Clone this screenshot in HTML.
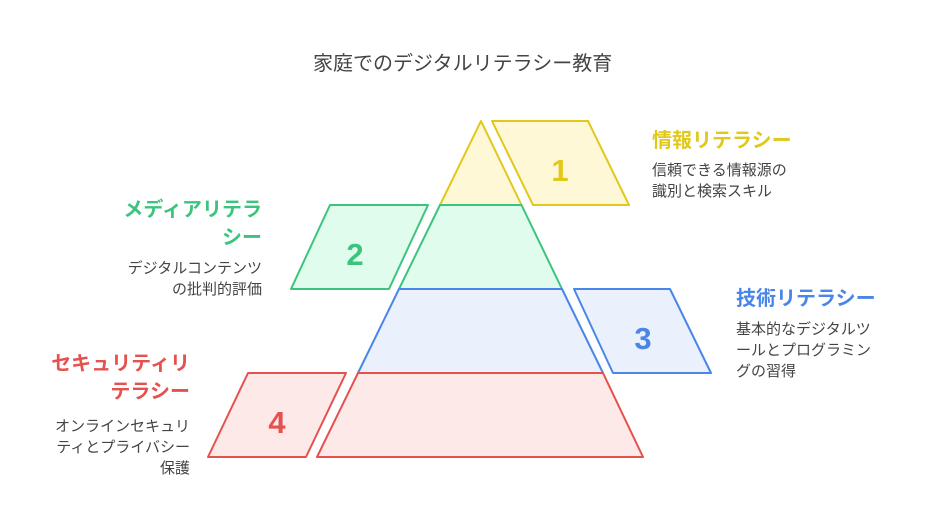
<!DOCTYPE html>
<html><head><meta charset="utf-8"><style>
body{margin:0;width:926px;height:530px;background:#fff;position:relative;overflow:hidden;font-family:"Liberation Sans","Noto Sans CJK JP",sans-serif}
.t{position:absolute;white-space:nowrap}
.h{font-size:20px;font-weight:bold}
.d{font-size:15px;color:#444;line-height:21px}
.r{text-align:right}
</style></head><body>
<svg width="926" height="530" style="position:absolute;left:0;top:0">
<g stroke-width="2" stroke-linejoin="round">
<polygon points="481,121 521.5,205 440,205" fill="#fff8d6" stroke="#e2c81b"/>
<polygon points="440,205 521.5,205 562,289 399,289" fill="#e0fcec" stroke="#3cc47e"/>
<polygon points="399,289 562,289 603,373 358,373" fill="#eaf1fd" stroke="#4a86e8"/>
<polygon points="358,373 603,373 643,457 317,457" fill="#fde9e8" stroke="#e5514f"/>
<polygon points="492,121 588,121 629,205 533,205" fill="#fff8d6" stroke="#e2c81b"/>
<polygon points="330,205 428,205 389,289 291,289" fill="#e0fcec" stroke="#3cc47e"/>
<polygon points="574,289 670,289 711,373 613,373" fill="#eaf1fd" stroke="#4a86e8"/>
<polygon points="248,373 346,373 306,457 208,457" fill="#fde9e8" stroke="#e5514f"/>
</g>
<g font-family="Liberation Sans,sans-serif" font-weight="bold" font-size="31" text-anchor="middle">
<text x="560" y="181" fill="#e2c81b">1</text>
<text x="355" y="265" fill="#3cc47e">2</text>
<text x="643" y="349" fill="#4a86e8">3</text>
<text x="277" y="433" fill="#e5514f">4</text>
</g>
</svg>
<div class="t" style="left:313px;top:47px;font-size:20px;color:#444">家庭でのデジタルリテラシー教育</div>
<div class="t h" style="left:652px;top:124px;color:#e2c81b">情報リテラシー</div>
<div class="t d" style="left:652px;top:160px">信頼できる情報源の<br>識別と検索スキル</div>
<div class="t h r" style="right:664px;top:196px;color:#3cc47e;line-height:28px">メディアリテラ<br>シー</div>
<div class="t d r" style="right:664px;top:258px">デジタルコンテンツ<br>の批判的評価</div>
<div class="t h" style="left:736px;top:282px;color:#4a86e8">技術リテラシー</div>
<div class="t d" style="left:736px;top:319px">基本的なデジタルツ<br>ールとプログラミン<br>グの習得</div>
<div class="t h r" style="right:736px;top:350px;color:#e5514f;line-height:28px">セキュリティリ<br>テラシー</div>
<div class="t d r" style="right:736px;top:416px">オンラインセキュリ<br>ティとプライバシー<br>保護</div>
</body></html>
